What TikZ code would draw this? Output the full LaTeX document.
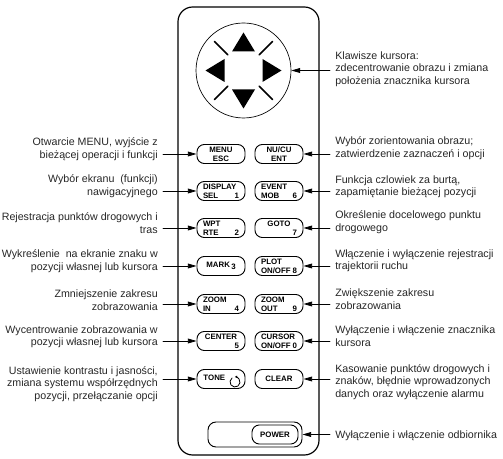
\documentclass[tikz,border=0pt]{standalone}
\usepackage{fontspec}
\setmainfont{Liberation Sans}
\usetikzlibrary{arrows.meta}

% opis przy przycisku
\tikzset{
  opis/.style={font=\fontsize{8pt}{9.3pt}\selectfont, text=black!85, inner sep=0pt},
  opisL/.style={opis, anchor=east, align=right},
  opisP/.style={opis, anchor=west, align=left},
  klawisz/.style={draw, line width=0.7pt, rounded corners=5.5pt, minimum width=36pt,
    minimum height=14.25pt, inner sep=0pt, align=center,
    font=\fontsize{5.9pt}{6.8pt}\selectfont\bfseries},
  strz/.style={-{Triangle[length=6.5pt,width=3.6pt]}, line width=0.6pt},
}
\newcommand{\kw}[2]{\makebox[27pt]{#1\hfill#2}}

\begin{document}
\begin{tikzpicture}[line cap=round,line join=round,x=0.75pt,y=-0.75pt]
  \useasboundingbox (0,0) rectangle (503,459);
  % obudowa
  \draw[line width=0.9pt, rounded corners=11pt] (178,7) rectangle (319,455);

  % klawisze kursora
  \node[draw, circle, line width=0.5pt, minimum size=71.25pt, inner sep=0pt] (pad) at (243.5,70.5) {};
  \begin{scope}[shift={(pad.center)}]
    \fill (0,-38) -- (-11.5,-19) -- (11.5,-19) -- cycle;
    \fill (0,38) -- (-11.5,19) -- (11.5,19) -- cycle;
    \fill (-38,0) -- (-19,-11.5) -- (-19,11.5) -- cycle;
    \fill (38,0) -- (19,-11.5) -- (19,11.5) -- cycle;
    \foreach \a in {45,135,225,315}
      \draw[line width=1.1pt] (\a:22) -- (\a:41);
  \end{scope}

  % przyciski
  \node[klawisz] (menu) at (221,154) {MENU\\ESC};
  \node[klawisz] (nucu) at (279,154) {NU/CU\\ENT};
  \node[klawisz] (display) at (221,191) {\kw{DISPLAY}{}\\\kw{SEL}{1}};
  \node[klawisz] (event) at (279,191) {\kw{EVENT}{}\\\kw{MOB}{6}};
  \node[klawisz] (wpt) at (221,228) {\kw{WPT}{}\\\kw{RTE}{2}};
  \node[klawisz] (goto) at (279,228) {GOTO\\\kw{}{7}};
  \node[klawisz] (mark) at (221,266) {MARK\,\raisebox{-1.8pt}{3}};
  \node[klawisz] (plot) at (279,266) {\kw{PLOT}{}\\\kw{ON/OFF}{8}};
  \node[klawisz] (zoomin) at (221,304) {\kw{ZOOM}{}\\\kw{IN}{4}};
  \node[klawisz] (zoomout) at (279,304) {\kw{ZOOM}{}\\\kw{OUT}{9}};
  \node[klawisz] (center) at (221,341) {CENTER\\\kw{}{5}};
  \node[klawisz] (cursor) at (279,341) {\kw{CURSOR}{}\\\kw{ON/OFF}{0}};
  \node[klawisz] (tone) at (221,379) {\raisebox{2.5pt}{TONE}\hspace{10pt}};
  \node[klawisz] (clear) at (279,379) {CLEAR};
  \draw[line width=0.6pt, -{Latex[length=2pt,width=2pt]}] (235,382) ++(235:5) arc (235:-95:5);
  \node[klawisz, minimum width=70.5pt, minimum height=18.75pt, rounded corners=6pt] (powerbox) at (255,434.5) {};
  \node[klawisz, minimum width=34.5pt] (power) at (275,434.5) {POWER};

  % opisy z lewej
  \node[opisL] (lmenu) at (158,149) {Otwarcie MENU, wyjście z\\bieżącej operacji i funkcji};
  \node[opisL] (ldisplay) at (158,186) {Wybór ekranu\ \ (funkcji)\\nawigacyjnego};
  \node[opisL] (lwpt) at (158,223) {Rejestracja punktów drogowych i\\tras};
  \node[opisL] (lmark) at (158,261) {Wykreślenie\ \ na ekranie znaku w\\pozycji własnej lub kursora};
  \node[opisL] (lzoomin) at (158,300) {Zmniejszenie zakresu\\zobrazowania};
  \node[opisL] (lcenter) at (158,337) {Wycentrowanie zobrazowania w\\pozycji własnej lub kursora};
  \node[opisL] (ltone) at (158,384) {Ustawienie kontrastu i jasności,\\zmiana systemu współrzędnych\\pozycji, przełączanie opcji};

  % opisy z prawej
  \node[opisP] (ppad) at (335,69) {Klawisze kursora:\\zdecentrowanie obrazu i zmiana\\położenia znacznika kursora};
  \node[opisP] (pnucu) at (335,148) {Wybór zorientowania obrazu;\\zatwierdzenie zaznaczeń i opcji};
  \node[opisP] (pevent) at (335,187) {Funkcja czlowiek za burtą,\\zapamiętanie bieżącej pozycji};
  \node[opisP] (pgoto) at (335,222) {Określenie docelowego punktu\\drogowego};
  \node[opisP] (pplot) at (335,261) {Włączenie i wyłączenie rejestracji\\trajektorii ruchu};
  \node[opisP] (pzoomout) at (335,299) {Zwiększenie zakresu\\zobrazowania};
  \node[opisP] (pcursor) at (335,336) {Wyłączenie i włączenie znacznika\\kursora};
  \node[opisP] (pclear) at (335,382) {Kasowanie punktów drogowych i\\znaków, błędnie wprowadzonych\\danych oraz wyłączenie alarmu};
  \node[opisP] (ppower) at (335,436) {Wyłączenie i włączenie odbiornika};

  % poczatki strzalek
  \coordinate (smenu) at (163,154);
  \coordinate (sdisplay) at (163,191);
  \coordinate (swpt) at (163,228);
  \coordinate (smark) at (163,266);
  \coordinate (szoomin) at (163,304);
  \coordinate (scenter) at (163,341);
  \coordinate (stone) at (163,379);
  \coordinate (spad) at (330,70.5);
  \coordinate (snucu) at (330,154);
  \coordinate (sevent) at (330,191);
  \coordinate (sgoto) at (330,228);
  \coordinate (splot) at (330,266);
  \coordinate (szoomout) at (330,304);
  \coordinate (scursor) at (330,341);
  \coordinate (sclear) at (330,379);
  \coordinate (spower) at (330,434.5);

  \draw[strz] (smenu) -- (menu.west);
  \draw[strz] (sdisplay) -- (display.west);
  \draw[strz] (swpt) -- (wpt.west);
  \draw[strz] (smark) -- (mark.west);
  \draw[strz] (szoomin) -- (zoomin.west);
  \draw[strz] (scenter) -- (center.west);
  \draw[strz] (stone) -- (tone.west);
  \draw[strz] (spad) -- (pad.east);
  \draw[strz] (snucu) -- (nucu.east);
  \draw[strz] (sevent) -- (event.east);
  \draw[strz] (sgoto) -- (goto.east);
  \draw[strz] (splot) -- (plot.east);
  \draw[strz] (szoomout) -- (zoomout.east);
  \draw[strz] (scursor) -- (cursor.east);
  \draw[strz] (sclear) -- (clear.east);
  \draw[strz] (spower) -- (powerbox.east);
\end{tikzpicture}
\end{document}
